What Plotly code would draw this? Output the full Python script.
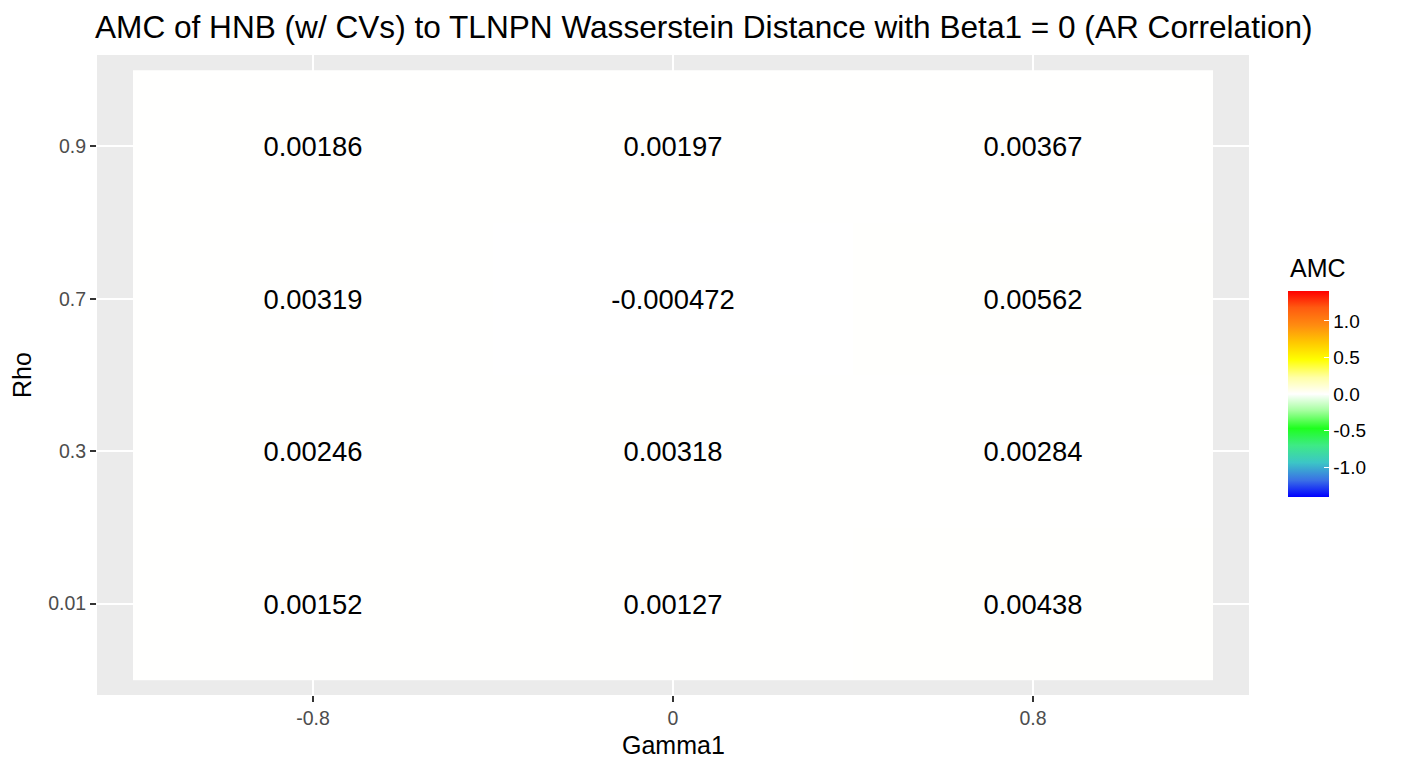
import plotly.graph_objects as go

gamma1 = ["-0.8", "0", "0.8"]
rho = ["0.01", "0.3", "0.7", "0.9"]
# AMC values, one row per rho (bottom to top), columns per gamma1
amc_rho_001 = [0.00152, 0.00127, 0.00438]
amc_rho_03 = [0.00246, 0.00318, 0.00284]
amc_rho_07 = [0.00319, -0.000472, 0.00562]
amc_rho_09 = [0.00186, 0.00197, 0.00367]
color_limits = [-1.41, 1.41]
cbar_ticks = [-1.0, -0.5, 0.0, 0.5, 1.0]

z = [amc_rho_001, amc_rho_03, amc_rho_07, amc_rho_09]
text = [[f"{v:.3g}" for v in row] for row in z]
xs = list(range(1, len(gamma1) + 1))
ys = list(range(1, len(rho) + 1))

colorscale = [
    [0.0, "#0000ff"],
    [0.08, "#3a6fe6"],
    [0.167, "#3cc6c6"],
    [0.25, "#3eea86"],
    [0.333, "#1eff1e"],
    [0.42, "#a6ffa0"],
    [0.5, "#ffffff"],
    [0.58, "#ffffa6"],
    [0.667, "#ffff00"],
    [0.75, "#ffc800"],
    [0.833, "#ff8c10"],
    [0.92, "#ff5a10"],
    [1.0, "#ff0000"],
]

FONT = "Liberation Sans, Arial, Helvetica, sans-serif"
W, H = 1405, 770
PL, PR, PT, PB = 97, 1249, 55, 695
PW, PH = PR - PL, PB - PT

fig = go.Figure(go.Heatmap(
    x=xs, y=ys, z=z, text=text, texttemplate="%{text}",
    textfont=dict(family=FONT, size=27.4, color="black"),
    colorscale=colorscale, zmin=color_limits[0], zmax=color_limits[1],
    hoverinfo="skip",
    colorbar=dict(
        xref="paper", yref="paper",
        x=(1288 - PL) / PW, xanchor="left", y=(PB - 394) / PH, yanchor="middle",
        len=206, lenmode="pixels", thickness=41, thicknessmode="pixels",
        outlinewidth=0, tickvals=cbar_ticks,
        ticktext=[f"{t:.1f}" for t in cbar_ticks],
        ticks="inside", ticklen=5, tickcolor="white",
        tickfont=dict(family=FONT, size=19, color="black"),
        xpad=0, ypad=0,
    ),
))

fig.update_layout(
    width=W, height=H,
    margin=dict(l=PL, r=W - PR, t=PT, b=H - PB, autoexpand=False),
    paper_bgcolor="white", plot_bgcolor="#ebebeb",
    title=dict(
        text="AMC of HNB (w/ CVs) to TLNPN Wasserstein Distance with Beta1 = 0 (AR Correlation)",
        xref="container", yref="container", x=95 / W, xanchor="left",
        y=1 - 27 / H, yanchor="middle",
        font=dict(family=FONT, size=31.6, color="black"),
    ),
    xaxis=dict(
        range=[0.4, len(gamma1) + 0.6], tickvals=xs, ticktext=gamma1,
        showgrid=True, gridcolor="white", gridwidth=2, zeroline=False,
        ticks="outside", ticklen=6, tickcolor="#333333", tickwidth=2,
        tickfont=dict(family=FONT, size=19.5, color="#4d4d4d"),
        showline=False, fixedrange=True,
    ),
    yaxis=dict(
        range=[0.4, len(rho) + 0.6], tickvals=ys, ticktext=rho,
        showgrid=True, gridcolor="white", gridwidth=2, zeroline=False,
        ticks="outside", ticklen=6, tickcolor="#333333", tickwidth=2,
        tickfont=dict(family=FONT, size=19.5, color="#4d4d4d"),
        showline=False, fixedrange=True,
    ),
    annotations=[
        dict(text="Gamma1", xref="paper", yref="paper", x=0.5, y=-(745 - PB) / PH,
             xanchor="center", yanchor="middle", showarrow=False,
             font=dict(family=FONT, size=25, color="black")),
        dict(text="Rho", xref="paper", yref="paper", x=-(PL - 22) / PW, y=0.5,
             xanchor="center", yanchor="middle", showarrow=False, textangle=-90,
             font=dict(family=FONT, size=25, color="black")),
        dict(text="AMC", xref="paper", yref="paper", x=(1288 - PL) / PW,
             y=(PB - 268) / PH, xanchor="left", yanchor="middle", showarrow=False,
             font=dict(family=FONT, size=25, color="black")),
    ],
)

fig.write_html("out.html", config={"displayModeBar": False},
               post_script="document.body.style.margin='0';")
